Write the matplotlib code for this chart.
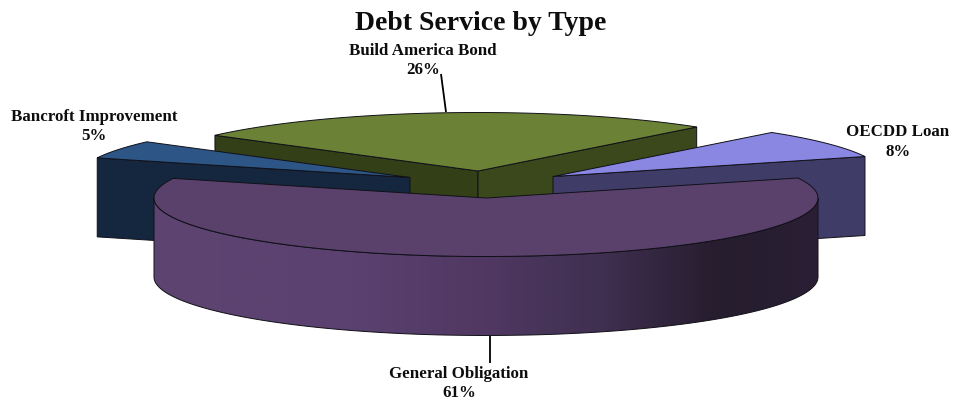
#!/usr/bin/env python3
"""Exploded pseudo-3D pie of debt service by type."""

import numpy as np
import matplotlib
matplotlib.use("Agg")
import matplotlib.pyplot as plt
from matplotlib.colors import LinearSegmentedColormap
from matplotlib.patches import Polygon

# slices run clockwise from the General Obligation end of Bancroft
CATEGORIES = ["Build America Bond", "OECDD Loan", "General Obligation", "Bancroft Improvement"]
SHARES = [26, 8, 61, 5]
PCT_LABELS = ["26%", "8%", "61%", "5%"]

TOP_COLORS = ["#6b8236", "#8a87e3", "#5a416c", "#2d5687"]
WALL_COLORS = ["#3b481b", "#3f3d68", "#4a3459", "#15273f"]
START_ANGLE = 142.4

# pie layout in pixels
RX, RY, DEPTH = 332.0, 58.5, 79.0
CENTERS = {
    "Build America Bond": (478, 172),
    "OECDD Loan": (553, 177.5),
    "General Obligation": (486, 199),
    "Bancroft Improvement": (410, 178.5),
}
LABEL_POS = {
    "Build America Bond": (423, 60.5),
    "OECDD Loan": (898, 142),
    "General Obligation": (459, 383.5),
    "Bancroft Improvement": (94, 126.5),
}
LEADERS = [((441, 75), (446, 113)), ((490, 337), (490, 364))]

GO_WALL = LinearSegmentedColormap.from_list(
    "go_wall",
    [(0.0, "#5d4470"), (0.3, "#5a4170"), (0.5, "#503862"), (0.68, "#3f2f50"),
     (0.85, "#261d2e"), (1.0, "#2a1f34")],
)
EDGE = "#101018"


def slice_angles():
    """Angle range of every slice, degrees counter-clockwise, walking clockwise."""
    spans = np.array(SHARES) / sum(SHARES) * 360.0
    ends = START_ANGLE - np.cumsum(spans)
    starts = np.concatenate([[START_ANGLE], ends[:-1]])
    return dict(zip(CATEGORIES, zip(starts, ends)))


def rim(cx, cy, a0, a1, n=120):
    t = np.radians(np.linspace(a0, a1, n))
    return np.column_stack([cx + RX * np.cos(t), cy - RY * np.sin(t)])


def radial_wall(ax, cx, cy, angle, color):
    x = cx + RX * np.cos(np.radians(angle))
    y = cy - RY * np.sin(np.radians(angle))
    pts = [(cx, cy), (x, y), (x, y + DEPTH), (cx, cy + DEPTH)]
    ax.add_patch(Polygon(pts, facecolor=color, edgecolor=EDGE, linewidth=0.7, zorder=1))


def top_face(ax, cx, cy, a0, a1, color, zorder=1):
    pts = np.vstack([[(cx, cy)], rim(cx, cy, a0, a1)])
    ax.add_patch(Polygon(pts, facecolor=color, edgecolor=EDGE, linewidth=0.7, zorder=zorder))


def draw_outer_wall(ax, cx, cy):
    """Front curved wall, a left-to-right gradient clipped to the wall outline."""
    pts = rim(cx, cy, 180, 360, 300)
    outline = np.vstack([pts, pts[::-1] + (0, DEPTH)])
    patch = Polygon(outline, facecolor="none", edgecolor=EDGE, linewidth=0.7, zorder=2.2)
    ax.add_patch(patch)
    gradient = np.linspace(0, 1, 512).reshape(1, -1)
    img = ax.imshow(gradient, cmap=GO_WALL, aspect="auto", interpolation="bilinear",
                    extent=(cx - RX, cx + RX, cy + RY + DEPTH, cy), zorder=2.1)
    img.set_clip_path(patch)


fig = plt.figure(figsize=(9.56, 4.02), dpi=100)
ax = fig.add_axes([0, 0, 1, 1])
ax.axis("off")

angles = slice_angles()

# Build America Bond sits at the back, with both cut faces showing
name = "Build America Bond"
cx, cy = CENTERS[name]
a0, a1 = angles[name]
radial_wall(ax, cx, cy, a0, "#333f17")
radial_wall(ax, cx, cy, a1, WALL_COLORS[0])
top_face(ax, cx, cy, a0, a1, TOP_COLORS[0])

name = "Bancroft Improvement"
cx, cy = CENTERS[name]
a0, a1 = angles[name]
radial_wall(ax, cx, cy, a0 + 360, WALL_COLORS[3])
top_face(ax, cx, cy, a0 + 360, a1 + 360, TOP_COLORS[3])

name = "OECDD Loan"
cx, cy = CENTERS[name]
a0, a1 = angles[name]
radial_wall(ax, cx, cy, a1, WALL_COLORS[1])
top_face(ax, cx, cy, a0, a1, TOP_COLORS[1])

# General Obligation goes in front of everything else
name = "General Obligation"
cx, cy = CENTERS[name]
a0, a1 = angles[name]
draw_outer_wall(ax, cx, cy)
top_face(ax, cx, cy, a0, a1, TOP_COLORS[2], zorder=2.3)

for (x0, y0), (x1, y1) in LEADERS:
    ax.plot([x0, x1], [y0, y1], color="black", lw=1.3, solid_capstyle="butt", zorder=3)

font = {"family": ["Liberation Serif"], "weight": "bold", "color": "#0d0d0d"}
for name, pct in zip(CATEGORIES, PCT_LABELS):
    x, y = LABEL_POS[name]
    ax.text(x, y, f"{name}\n{pct}", ha="center", va="center", fontsize=12.2,
            linespacing=1.3, **font)

ax.text(481, 23.5, "Debt Service by Type", ha="center", va="center", fontsize=20, **font)

ax.set_xlim(0, 956)
ax.set_ylim(402, 0)

fig.savefig("out.png", dpi=100)
